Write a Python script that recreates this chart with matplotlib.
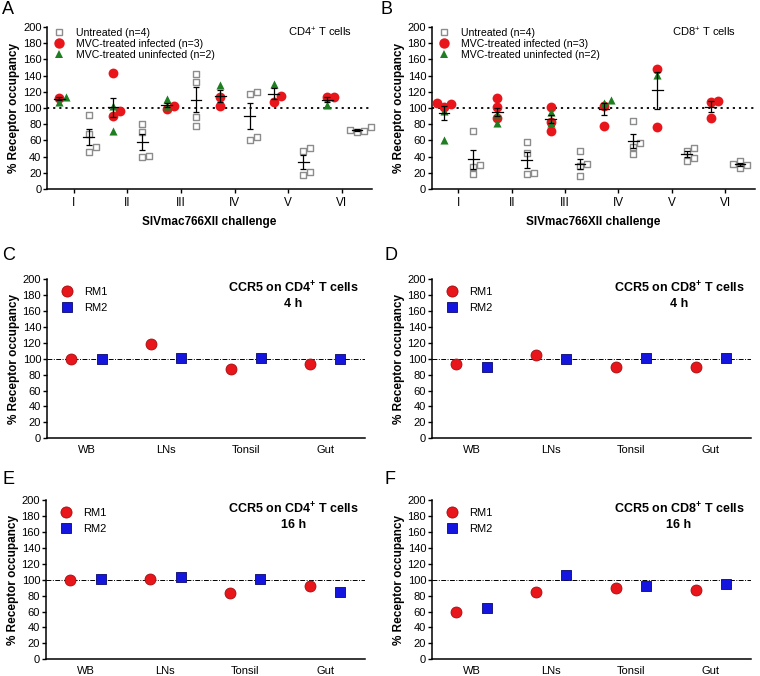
"""
Receptor occupancy figure: SIV challenge panels (A, B) and tissue
panels for two animals at 4 h and 16 h (C-F).
"""

import matplotlib
matplotlib.use("Agg")
import matplotlib.pyplot as plt
import numpy as np
from matplotlib.lines import Line2D

plt.rcParams["font.family"] = ["Liberation Sans", "DejaVu Sans"]
plt.rcParams["mathtext.default"] = "regular"

# ---- data -------------------------------------------------------------
challenges = ["I", "II", "III", "IV", "V", "VI"]

cd4_untreated = [[91, 68, 46, 52], [80, 70, 40, 41], [142, 132, 89, 78],
                 [120, 117, 64, 61], [50, 47, 21, 17], [70, 76, 71, 73]]
cd4_infected = [[112], [143, 96, 90], [99, 102], [103, 113], [108, 115], [113, 114]]
cd4_uninfected = [[114, 108], [103, 72], [103, 111], [128], [130], [104]]

cd8_untreated = [[71, 30, 27, 18], [58, 45, 19, 20], [47, 31, 16, 28],
                 [84, 57, 52, 43], [51, 47, 35, 38], [26, 35, 30, 31]]
cd8_infected = [[101, 106, 105], [112, 101, 88], [101, 83, 72], [102, 78], [148, 76], [109, 107, 88]]
cd8_uninfected = [[96, 60], [93, 81], [95, 82], [110, 106], [141], []]

tissues = ["WB", "LNs", "Tonsil", "Gut"]
cd4_4h_rm1 = [100, 118, 87, 93]
cd4_4h_rm2 = [100, 101, 101, 99]
cd8_4h_rm1 = [93, 104, 89, 89]
cd8_4h_rm2 = [89, 100, 101, 101]
cd4_16h_rm1 = [100, 101, 83, 92]
cd4_16h_rm2 = [101, 103, 101, 84]
cd8_16h_rm1 = [60, 84, 89, 87]
cd8_16h_rm2 = [65, 106, 92, 94]

# ---- style ------------------------------------------------------------
W, H = 760, 676
RED, RED_EDGE = "#e8161b", "#a30d10"
GREEN = "#1f7d22"
BLUE, BLUE_EDGE = "#1515e0", "#07076e"
GREY = "#8c8c8c"


def px_box(left, top, right, bottom):
    return [left / W, 1 - bottom / H, (right - left) / W, (bottom - top) / H]


def swarm_offsets(values, step, gap=8):
    """Spread points sideways when their values sit too close together."""
    offsets = np.zeros(len(values))
    placed = []
    for i in np.argsort(values):
        v = values[i]
        for c in [0, 1, -1, 2, -2, 3, -3]:
            off = c * step
            if all(abs(v - pv) >= gap or po != off for pv, po in placed):
                break
        offsets[i] = off
        placed.append((v, off))
    return offsets


def style_axes(ax):
    for side in ("top", "right"):
        ax.spines[side].set_visible(False)
    for side in ("left", "bottom"):
        ax.spines[side].set_linewidth(1.1)
    ax.set_ylim(0, 200)
    ax.set_yticks(np.arange(0, 201, 20))
    ax.tick_params(axis="y", direction="out", length=3, width=1, labelsize=8, pad=1)
    ax.set_ylabel("% Receptor occupancy", fontsize=8.5, fontweight="bold", labelpad=2)


def mean_sem_bar(ax, x, vals):
    vals = np.asarray(vals, dtype=float)
    m = vals.mean()
    sem = vals.std(ddof=1) / np.sqrt(len(vals))
    ax.plot([x - 0.1, x + 0.1], [m, m], color="black", lw=0.9, zorder=5)
    ax.errorbar([x], [m], yerr=[sem], fmt="none", ecolor="black",
                elinewidth=0.9, capsize=2.5, capthick=0.9, zorder=5)


def plot_challenge(ax, untreated, infected, uninfected, cell_label):
    step = 0.13
    for i, name in enumerate(challenges):
        xt = i - 0.27
        xu = i + 0.28
        inf = np.asarray(infected[i], dtype=float)
        uni = np.asarray(uninfected[i], dtype=float)
        unt = np.asarray(untreated[i], dtype=float)
        ax.scatter(xu + swarm_offsets(unt, step), unt, marker="s", s=24,
                   facecolor="white", edgecolor=GREY, linewidth=1, zorder=3, clip_on=False)
        if len(uni):
            ax.scatter(xt + swarm_offsets(uni, step), uni, marker="^", s=34,
                       color=GREEN, linewidth=0, zorder=4, clip_on=False)
        if len(inf):
            ax.scatter(xt + swarm_offsets(inf, step), inf, marker="o", s=50,
                       color=RED, linewidth=0, zorder=3, clip_on=False)
        mean_sem_bar(ax, xu, unt)
        mean_sem_bar(ax, xt, np.concatenate([inf, uni]))

    ax.axhline(100, color="black", lw=1.3, ls=(0, (1.2, 2.2)), zorder=2)
    ax.set_xlim(-0.5, 5.56)
    ax.set_xticks(range(len(challenges)))
    ax.set_xticklabels(challenges)
    ax.tick_params(axis="x", direction="out", length=3, width=1, labelsize=8.5, pad=3)
    ax.set_xlabel("SIVmac766XII challenge", fontsize=8.5, fontweight="bold", labelpad=5)
    style_axes(ax)

    handles = [
        Line2D([], [], marker="s", ls="none", ms=5, mfc="white", mec=GREY, mew=1),
        Line2D([], [], marker="o", ls="none", ms=7.5, color=RED, mew=0),
        Line2D([], [], marker="^", ls="none", ms=5.5, color=GREEN, mew=0),
    ]
    labels = ["Untreated (n=4)", "MVC-treated infected (n=3)", "MVC-treated uninfected (n=2)"]
    ax.legend(handles, labels, loc="upper left", bbox_to_anchor=(-0.01, 1.04),
              frameon=False, fontsize=7.6, labelspacing=0.1, handletextpad=0.9,
              handlelength=1.5, borderpad=0.2)
    ax.text(0.94, 0.965, f"CD{cell_label}$^{{+}}$ T cells", transform=ax.transAxes,
            ha="right", va="center", fontsize=8)


def plot_tissue(ax, rm1, rm2, cell_label, hours):
    x = np.arange(len(tissues))
    ax.axhline(100, color="black", lw=0.7, ls=(0, (5, 1.5, 1, 1.5)), zorder=1)
    ax.scatter(x - 0.19, rm1, marker="o", s=62, color=RED, edgecolor=RED_EDGE,
               linewidth=0.6, zorder=3, clip_on=False)
    ax.scatter(x + 0.19, rm2, marker="s", s=58, color=BLUE, edgecolor=BLUE_EDGE,
               linewidth=0.6, zorder=3, clip_on=False)
    ax.set_xlim(-0.5, 3.5)
    ax.set_xticks(x)
    ax.set_xticklabels(tissues)
    ax.tick_params(axis="x", length=0, labelsize=8, pad=5)
    style_axes(ax)

    handles = [
        Line2D([], [], marker="o", ls="none", ms=8, color=RED, mec=RED_EDGE, mew=0.6),
        Line2D([], [], marker="s", ls="none", ms=7.5, color=BLUE, mec=BLUE_EDGE, mew=0.6),
    ]
    ax.legend(handles, ["RM1", "RM2"], loc="upper left", bbox_to_anchor=(0.012, 1.0),
              frameon=False, fontsize=8, labelspacing=0.55, handletextpad=0.8,
              handlelength=1.5, borderpad=0.2)
    ax.text(0.775, 0.9, f"CCR5 on CD{cell_label}$^{{+}}$ T cells\n{hours} h",
            transform=ax.transAxes, ha="center", va="center", multialignment="center",
            fontsize=9, fontweight="bold", linespacing=1.25)


fig = plt.figure(figsize=(W / 100, H / 100), dpi=100)

ax_a = fig.add_axes(px_box(47, 27, 372, 189))
plot_challenge(ax_a, cd4_untreated, cd4_infected, cd4_uninfected, "4")
ax_b = fig.add_axes(px_box(431.7, 27, 755, 189))
plot_challenge(ax_b, cd8_untreated, cd8_infected, cd8_uninfected, "8")

ax_c = fig.add_axes(px_box(46.7, 279, 365, 438.3))
plot_tissue(ax_c, cd4_4h_rm1, cd4_4h_rm2, "4", 4)
ax_d = fig.add_axes(px_box(431.7, 279, 750.7, 438.3))
plot_tissue(ax_d, cd8_4h_rm1, cd8_4h_rm2, "8", 4)
ax_e = fig.add_axes(px_box(45.7, 500, 365, 659.3))
plot_tissue(ax_e, cd4_16h_rm1, cd4_16h_rm2, "4", 16)
ax_f = fig.add_axes(px_box(431.7, 500, 750.7, 659.3))
plot_tissue(ax_f, cd8_16h_rm1, cd8_16h_rm2, "8", 16)

for letter, (px, py) in zip("ABCDEF", [(2, 9), (381, 9), (2, 256), (384, 256), (2, 480), (385, 480)]):
    fig.text(px / W, 1 - py / H, letter, fontsize=13, ha="left", va="center")

fig.savefig("out.png", dpi=100)
